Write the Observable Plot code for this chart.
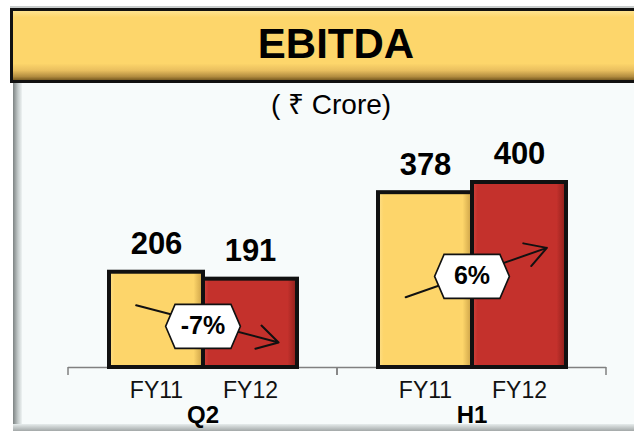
<!DOCTYPE html>
<html><head><meta charset="utf-8">
<script src="https://cdn.jsdelivr.net/npm/d3@7"></script>
<script src="https://cdn.jsdelivr.net/npm/@observablehq/plot@0.6"></script>
<style>
html,body{margin:0;padding:0;background:#fff;}
body{width:634px;height:434px;position:relative;overflow:hidden;font-family:Arial,"Liberation Sans",sans-serif;}
#panel{position:absolute;left:13px;top:82px;width:640px;height:345px;background:#f7fbfb;}
#lstrip{position:absolute;left:13px;top:82px;width:9px;height:345px;background:linear-gradient(to right,#7d8383,#c3caca 55%,#eef3f3);}
#bstrip{position:absolute;left:13px;top:424px;width:640px;height:7px;background:linear-gradient(to bottom,#e6ecec,#a3a8a8);}
#topline{position:absolute;left:10px;top:6px;width:640px;height:2px;background:#c8cccc;}
#title{position:absolute;left:10px;top:8px;width:646px;height:69px;border:3px solid #111;
  background:linear-gradient(to bottom,#fee38f 0%,#fdd66b 9%,#fdd66b 76%,#e9bf5f 86%,#b38d40 95%,#7a5c22 100%);
  font-weight:bold;font-size:42px;text-align:center;line-height:65px;color:#000;}
#sub{position:absolute;left:0;width:662px;top:91px;font-size:28px;line-height:28px;text-align:center;color:#000;}
#chart{position:absolute;left:0;top:130px;}
</style>
</head><body>
<div id="panel"></div><div id="lstrip"></div><div id="bstrip"></div><div id="topline"></div>
<div id="title">EBITDA</div>
<div id="sub">( ₹ Crore)</div>
<div id="chart"></div>
<script>
// Data
const groups = ["Q2", "Q2", "H1", "H1"];
const years = ["FY11", "FY12", "FY11", "FY12"];
const values = [206, 191, 378, 400];

// Growth annotations (levels in ₹ Crore units)
const growthGroups = ["Q2", "H1"];
const growthLabels = ["-7%", "6%"];
const arrowStart = [123, 167];
const arrowEnd = [70, 238];
const badgeLevel = [89, 197];

const data = values.map((v, i) => ({group: groups[i], year: years[i], value: v}));
const notes = growthLabels.map((l, i) => ({group: growthGroups[i], label: l, from: arrowStart[i], to: arrowEnd[i], badge: badgeLevel[i]}));

const hexagon = {
  draw(ctx, size) {
    const r = Math.sqrt(size / Math.PI);
    const w = r * 1.7, t = r * 1.27;
    ctx.moveTo(-w, 0); ctx.lineTo(-t, -r); ctx.lineTo(t, -r);
    ctx.lineTo(w, 0); ctx.lineTo(t, r); ctx.lineTo(-t, r); ctx.closePath();
  }
};

function decor(index, scales, values, dimensions) {
  const {width, height, marginLeft, marginRight, marginBottom} = dimensions;
  const g = d3.create("svg:g");
  const defs = g.append("defs");
  const gy = defs.append("linearGradient").attr("id", "gY").attr("x1", 0).attr("x2", 1).attr("y1", 0).attr("y2", 0);
  gy.append("stop").attr("offset", "0").attr("stop-color", "#fde08a");
  gy.append("stop").attr("offset", "0.06").attr("stop-color", "#fdd56a");
  gy.append("stop").attr("offset", "0.9").attr("stop-color", "#fdd56a");
  gy.append("stop").attr("offset", "1").attr("stop-color", "#c99f45");
  const gr = defs.append("linearGradient").attr("id", "gR").attr("x1", 0).attr("x2", 1).attr("y1", 0).attr("y2", 0);
  gr.append("stop").attr("offset", "0").attr("stop-color", "#d2463f");
  gr.append("stop").attr("offset", "0.06").attr("stop-color", "#c4312c");
  gr.append("stop").attr("offset", "0.9").attr("stop-color", "#c4312c");
  gr.append("stop").attr("offset", "1").attr("stop-color", "#8a1e1a");
  const y0 = height - marginBottom;
  for (const x of [marginLeft, width - marginRight]) {
    g.append("line").attr("x1", x).attr("x2", x).attr("y1", y0).attr("y2", y0 + 8)
      .attr("stroke", "#808080").attr("stroke-width", 1.5);
  }
  return g.node();
}

const chart = Plot.plot({
  width: 634, height: 304,
  marginTop: 52, marginBottom: 67, marginLeft: 67, marginRight: 28,
  style: {background: "transparent", fontFamily: "Arial, 'Liberation Sans', sans-serif", color: "#000", overflow: "visible"},
  fx: {domain: ["Q2", "H1"], paddingInner: 0, paddingOuter: 0, label: null},
  x: {domain: ["FY11", "FY12"], paddingInner: 0, paddingOuter: 0.418, label: null},
  y: {domain: [0, 400], axis: null},
  marks: [
    decor,
    Plot.ruleY([0], {stroke: "#808080", strokeWidth: 1.5}),
    Plot.barY(data.filter(d => d.year === "FY11"), {fx: "group", x: "year", y: "value", fill: "url(#gY)", stroke: "#111", strokeWidth: 4}),
    Plot.barY(data.filter(d => d.year === "FY12"), {fx: "group", x: "year", y: "value", fill: "url(#gR)", stroke: "#111", strokeWidth: 4}),
    Plot.text(data, {fx: "group", x: "year", y: "value", text: d => String(d.value), dy: -28, fontSize: 31, fontWeight: "bold", fill: "#000"}),
    Plot.arrow(notes, {fx: "group", x1: () => "FY11", x2: () => "FY12", y1: "from", y2: "to", insetStart: -21, insetEnd: -29, stroke: "#111", strokeWidth: 2, headLength: 18}),
    Plot.dot(notes, {fx: "group", y: "badge", symbol: hexagon, r: 22, fill: "#fff", stroke: "#111", strokeWidth: 1.6}),
    Plot.text(notes, {fx: "group", y: "badge", text: "label", fontSize: 25, fontWeight: "bold", fill: "#000"}),
    Plot.axisX({tickSize: 0, tickPadding: 14, fontSize: 23, fill: "#111"}),
    Plot.axisFx({anchor: "bottom", tickSize: 0, tickPadding: 38, fontSize: 24, fontWeight: "bold", fill: "#000", label: null})
  ]
});
document.getElementById("chart").appendChild(chart);
</script>
</body></html>
